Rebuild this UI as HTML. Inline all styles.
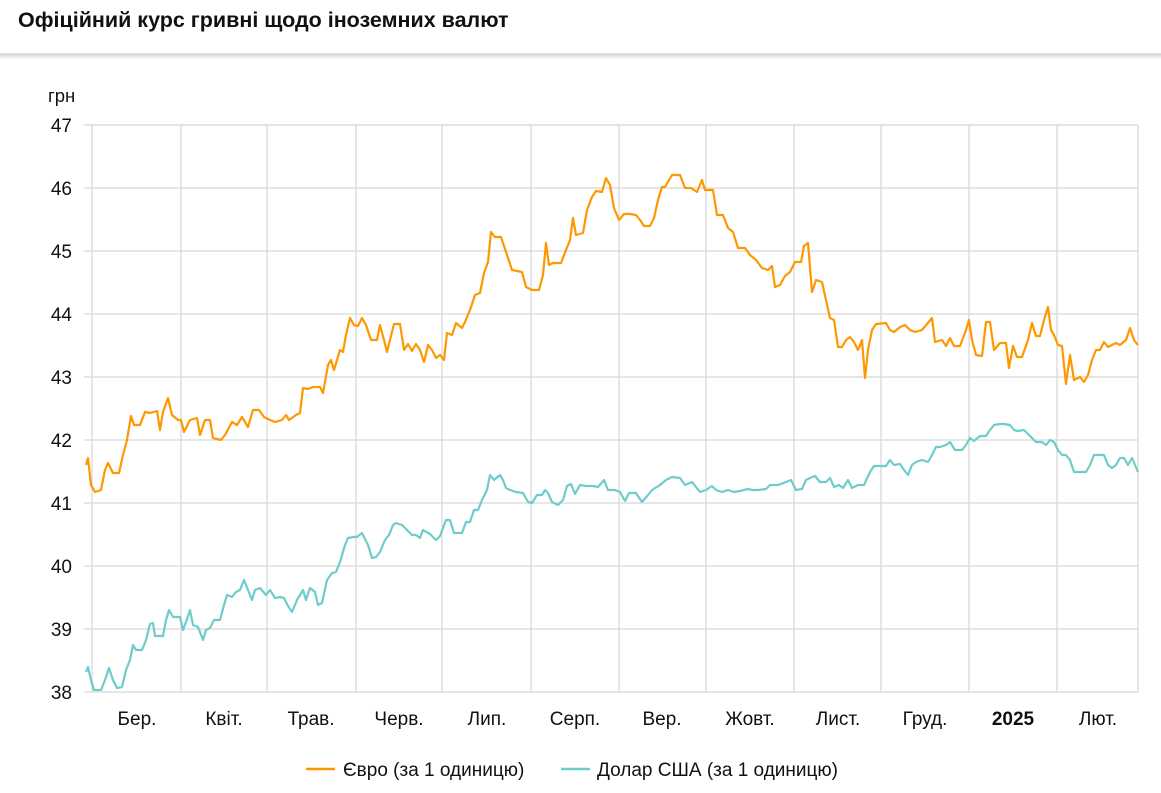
<!DOCTYPE html>
<html><head><meta charset="utf-8"><style>
body{margin:0;width:1161px;height:793px;background:#fff;font-family:"Liberation Sans",sans-serif;overflow:hidden}
</style></head><body>
<svg width="1161" height="793" xmlns="http://www.w3.org/2000/svg" style="position:absolute;left:0;top:0">
<defs><linearGradient id="sh" x1="0" y1="0" x2="0" y2="1"><stop offset="0" stop-color="#d8d8d8"/><stop offset="1" stop-color="#fff"/></linearGradient></defs>
<text x="18" y="27" font-size="21.5" font-weight="bold" fill="#111">Офіційний курс гривні щодо іноземних валют</text>
<rect x="0" y="53" width="1161" height="1.5" fill="#ddd"/>
<rect x="0" y="54.5" width="1161" height="5" fill="url(#sh)"/>
<text x="48" y="102" font-size="18.5" fill="#111">грн</text>
<g stroke="#d8d8d8" stroke-width="1.3">
<line x1="84" y1="125" x2="1138" y2="125"/><line x1="84" y1="188" x2="1138" y2="188"/><line x1="84" y1="251" x2="1138" y2="251"/><line x1="84" y1="314" x2="1138" y2="314"/><line x1="84" y1="377" x2="1138" y2="377"/><line x1="84" y1="440" x2="1138" y2="440"/><line x1="84" y1="503" x2="1138" y2="503"/><line x1="84" y1="566" x2="1138" y2="566"/><line x1="84" y1="629" x2="1138" y2="629"/><line x1="84" y1="692" x2="1138" y2="692"/>
<line x1="92" y1="125" x2="92" y2="692"/><line x1="181" y1="125" x2="181" y2="692"/><line x1="267" y1="125" x2="267" y2="692"/><line x1="356" y1="125" x2="356" y2="692"/><line x1="442" y1="125" x2="442" y2="692"/><line x1="531" y1="125" x2="531" y2="692"/><line x1="619" y1="125" x2="619" y2="692"/><line x1="706" y1="125" x2="706" y2="692"/><line x1="794" y1="125" x2="794" y2="692"/><line x1="881" y1="125" x2="881" y2="692"/><line x1="969" y1="125" x2="969" y2="692"/><line x1="1057" y1="125" x2="1057" y2="692"/><line x1="1138" y1="125" x2="1138" y2="692"/>
</g>
<g font-size="19" fill="#111" text-anchor="end">
<text x="72" y="132">47</text><text x="72" y="195">46</text><text x="72" y="258">45</text><text x="72" y="321">44</text><text x="72" y="384">43</text><text x="72" y="447">42</text><text x="72" y="510">41</text><text x="72" y="573">40</text><text x="72" y="636">39</text><text x="72" y="699">38</text>
</g>
<g font-size="19" fill="#111" text-anchor="middle">
<text x="137" y="725">Бер.</text><text x="224" y="725">Квіт.</text><text x="311" y="725">Трав.</text><text x="399" y="725">Черв.</text><text x="487" y="725">Лип.</text><text x="575" y="725">Серп.</text><text x="662" y="725">Вер.</text><text x="750" y="725">Жовт.</text><text x="838" y="725">Лист.</text><text x="925" y="725">Груд.</text><text x="1013" y="725" font-weight="bold">2025</text><text x="1098" y="725">Лют.</text>
</g>
<polyline fill="none" stroke="#ff9800" stroke-width="2.2" stroke-linejoin="round" points="86,465 88,458 91,485 95,492 101,490 105,470 108,463 113,473 119,473 123,455 127,440 131,416 134,425 140,425 145,412 150,413 157,411 160,430 163,412 168,398 172,415 178,420 181,420 184,432 190,420 197,418 200,435 205,420 210,420 213,438 221,440 225,435 232,422 237,425 242,417 248,427 253,410 259,410 264,417 270,420 275,422 282,420 286,415 289,420 296,415 300,413 303,388 308,389 313,387 320,387 323,393 328,365 331,360 334,370 340,350 343,352 346,335 350,318 354,325 358,326 362,318 366,325 371,340 377,340 380,325 384,340 387,352 394,324 400,324 404,350 408,344 412,351 416,344 420,350 424,362 428,345 432,350 436,358 440,355 444,360 447,333 452,335 456,323 462,328 465,322 470,310 475,295 480,293 484,273 488,262 491,232 495,237 501,237 507,255 512,270 522,272 526,287 532,290 539,290 543,275 546,243 549,265 553,263 561,263 566,250 570,240 573,218 576,235 583,233 587,210 592,197 596,191 602,192 606,178 610,185 614,208 619,220 624,214 630,214 636,215 640,220 644,226 650,226 654,218 658,200 662,187 665,187 672,175 680,175 685,188 691,188 697,192 702,180 705,190 713,190 717,215 723,215 728,228 733,232 738,248 745,248 750,255 756,260 762,268 768,270 772,266 775,287 780,285 785,276 790,272 795,262 801,262 804,246 808,243 812,292 816,280 822,282 826,300 830,318 834,320 838,347 842,347 846,340 850,337 854,342 858,350 862,340 865,378 868,350 872,330 876,324 886,323 890,330 894,332 900,327 905,325 910,330 915,332 922,330 932,318 935,342 942,340 946,346 950,338 954,346 960,346 966,330 969,320 972,340 976,355 982,356 986,322 990,322 994,350 1000,343 1006,343 1009,368 1013,346 1017,357 1022,357 1028,340 1032,323 1036,336 1040,336 1044,320 1048,307 1051,330 1054,335 1058,345 1062,346 1066,384 1070,355 1074,380 1080,377 1084,382 1088,375 1092,360 1096,350 1100,350 1104,342 1108,347 1112,345 1116,343 1120,345 1126,340 1130,328 1134,340 1138,345"/>
<polyline fill="none" stroke="#6ecdcb" stroke-width="2.2" stroke-linejoin="round" points="86,672 88,667 91,680 94,690 101,690 105,680 109,668 113,680 117,688 122,687 126,670 130,660 133,645 136,650 142,650 146,640 150,624 153,623 155,636 163,636 166,620 169,610 173,617 180,617 183,630 186,622 190,610 193,625 198,627 203,640 206,630 210,628 214,620 220,620 224,605 227,595 232,597 236,592 240,590 244,580 248,590 252,600 255,590 260,588 266,595 270,590 275,598 280,597 284,598 288,606 292,612 297,600 303,590 306,600 310,588 315,592 318,605 322,603 327,580 332,573 336,572 340,562 345,545 348,538 353,537 357,537 362,533 368,545 372,558 376,557 380,552 385,540 389,535 393,525 396,523 402,525 407,530 412,535 416,535 420,538 423,530 430,534 436,540 440,536 446,520 450,520 454,533 462,533 466,522 470,522 474,510 478,510 482,500 487,490 490,475 494,480 500,475 503,480 506,488 510,490 516,492 523,493 528,502 532,503 537,495 542,495 545,490 548,493 552,502 558,505 563,500 567,486 571,484 575,494 580,485 586,486 593,486 598,487 604,480 608,490 615,490 620,492 625,501 629,493 636,493 642,502 648,495 652,490 660,485 666,480 672,477 680,478 685,485 692,482 700,492 706,490 712,486 716,490 722,492 728,490 734,492 740,491 748,489 752,490 758,490 766,489 770,485 778,485 786,482 791,480 796,490 802,489 806,480 810,478 815,476 820,482 826,482 830,478 834,487 839,485 843,488 848,480 852,488 858,485 864,485 870,472 874,466 880,466 886,466 890,460 894,465 900,464 904,470 908,475 912,465 916,462 922,460 928,462 932,455 936,447 940,447 946,445 950,442 955,450 962,450 966,445 970,438 974,441 980,436 986,436 990,430 994,425 1000,424 1004,424 1010,425 1014,430 1018,431 1024,430 1030,436 1036,442 1042,442 1046,445 1050,440 1054,442 1058,450 1062,455 1066,455 1070,460 1074,472 1080,472 1086,472 1090,465 1094,455 1100,455 1104,455 1108,465 1112,468 1116,465 1120,458 1124,458 1128,465 1132,458 1138,472"/>
<line x1="306" y1="769" x2="335" y2="769" stroke="#ff9800" stroke-width="2.5"/>
<text x="343" y="776" font-size="19" fill="#111">Євро (за 1 одиницю)</text>
<line x1="561" y1="769" x2="590" y2="769" stroke="#6ecdcb" stroke-width="2.5"/>
<text x="597" y="776" font-size="19" fill="#111">Долар США (за 1 одиницю)</text>
</svg>
</body></html>
